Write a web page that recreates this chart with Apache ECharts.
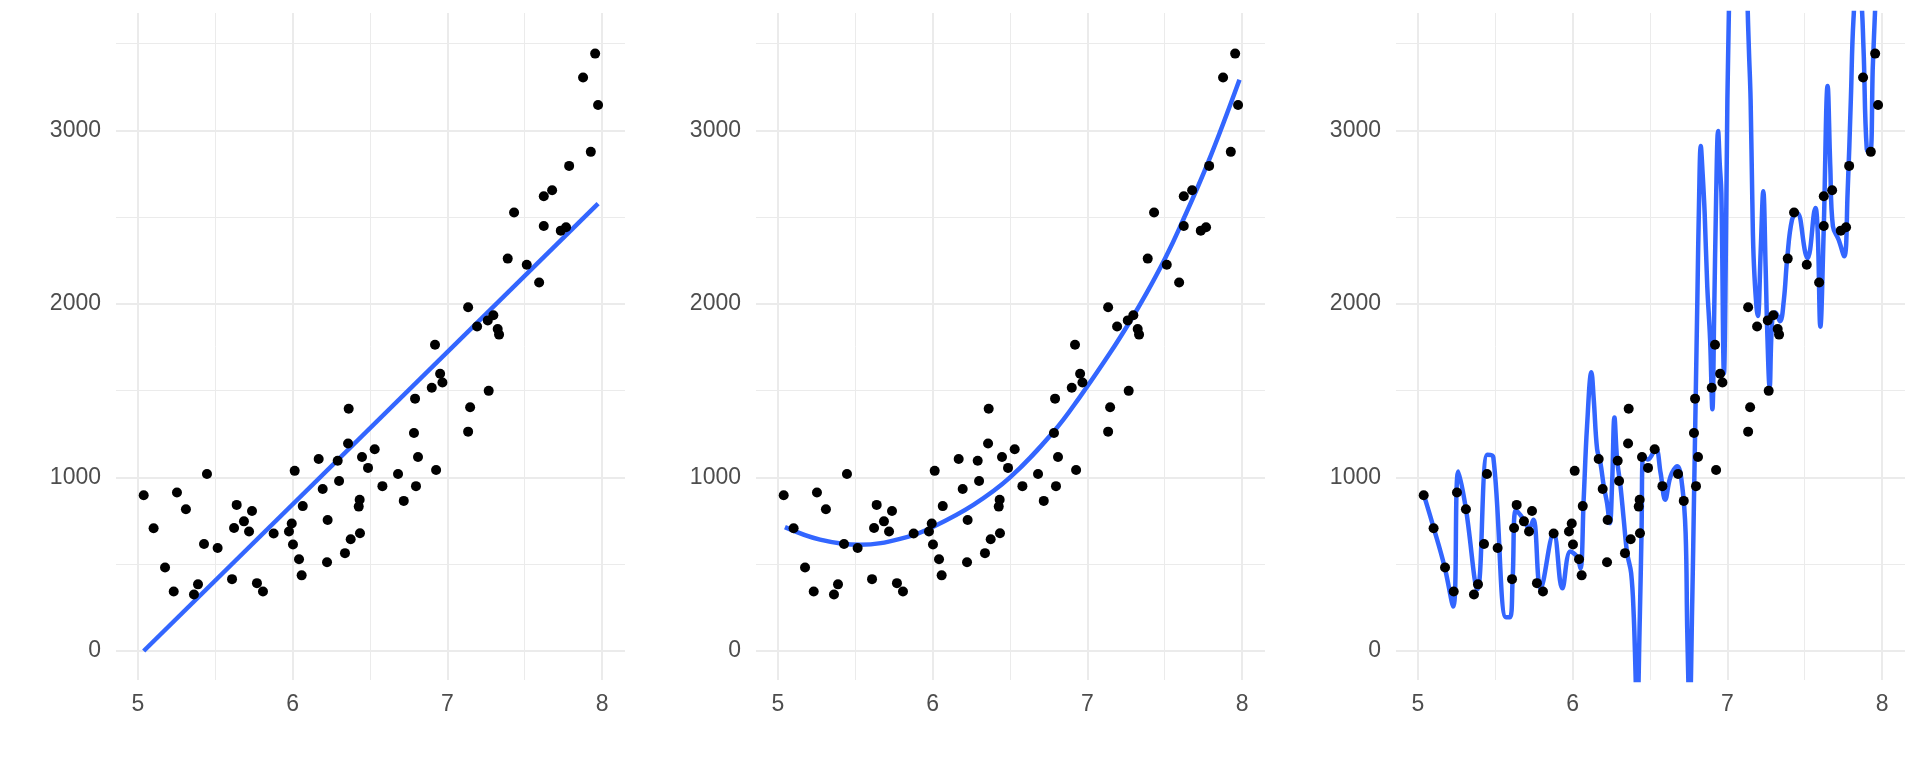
<!DOCTYPE html>
<html>
<head>
<meta charset="utf-8">
<script src="https://cdn.jsdelivr.net/npm/echarts@6/dist/echarts.min.js"></script>
<style>
  html, body { margin: 0; padding: 0; background: #fff; }
  #chart { width: 1920px; height: 768px; }
</style>
</head>
<body>
<div id="chart"></div>
<script>
const pointsX = [
  5.037, 5.101, 5.175, 5.231, 5.252, 5.310, 5.362, 5.388, 5.427, 5.446,
  5.515, 5.608, 5.621, 5.638, 5.685, 5.718, 5.737, 5.769, 5.808, 5.877,
  5.976, 5.994, 6.002, 6.013, 6.041, 6.058, 6.065, 6.168, 6.194, 6.222,
  6.226, 6.291, 6.300, 6.338, 6.358, 6.362, 6.375, 6.427, 6.433, 6.435,
  6.448, 6.487, 6.530, 6.580, 6.681, 6.718, 6.784, 6.791, 6.797, 6.810,
  6.920, 6.927, 6.899, 6.953, 6.968, 7.134, 7.134, 7.147, 7.192, 7.267,
  7.261, 7.297, 7.325, 7.334, 7.390, 7.431, 7.513, 7.593, 7.623, 7.623,
  7.677, 7.733, 7.767, 7.787, 7.877, 7.927, 7.955, 7.974
]
const pointsY = [
  897, 707, 481, 343, 913, 817, 326, 384, 617, 1020,
  594, 414, 709, 842, 747, 689, 807, 391, 343, 677,
  689, 735, 614, 1038, 529, 436, 835, 1106, 933, 511,
  755, 1096, 980, 564, 1196, 1396, 644, 832, 872, 679,
  1118, 1055, 1163, 950, 1020, 865, 1256, 1454, 950, 1118,
  1765, 1043, 1517, 1597, 1547, 1981, 1264, 1404, 1870, 1499,
  1905, 1935, 1855, 1823, 2261, 2527, 2226, 2123, 2620, 2449,
  2655, 2422, 2442, 2795, 3304, 2876, 3442, 3146
]

// panel 1: straight fit
const linearX = [5.037, 7.974]
const linearY = [0, 2578]

// panel 2: quadratic fit
const quadX = [5.045, 5.272, 5.530, 5.832, 6.004, 6.263, 6.500, 6.780, 6.953, 7.147, 7.276, 7.384, 7.502, 7.599, 7.782, 7.983]
const quadY = [714, 642, 612, 656, 716, 842, 1000, 1262, 1466, 1718, 1900, 2065, 2262, 2444, 2820, 3292]

// panel 3: over-fitted curve
const wiggleX = [
  5.037, 5.099, 5.172, 5.228, 5.261, 5.310, 5.384, 5.448, 5.487, 5.569,
  5.595, 5.612, 5.634, 5.685, 5.718, 5.746, 5.793, 5.877, 5.933, 5.985,
  6.028, 6.050, 6.071, 6.093, 6.121, 6.136, 6.158, 6.179, 6.201, 6.222,
  6.240, 6.255, 6.270, 6.287, 6.309, 6.330, 6.352, 6.378, 6.395, 6.417,
  6.434, 6.445, 6.456, 6.486, 6.536, 6.568, 6.598, 6.633, 6.676, 6.708,
  6.730, 6.741, 6.756, 6.773, 6.784, 6.795, 6.806, 6.817, 6.828, 6.840,
  6.853, 6.870, 6.888, 6.903, 6.914, 6.927, 6.940, 6.951, 6.961, 6.978,
  6.989, 7.000, 7.010, 7.020, 7.070, 7.120, 7.130, 7.139, 7.150, 7.161,
  7.172, 7.197, 7.215, 7.232, 7.247, 7.258, 7.273, 7.290, 7.311, 7.340,
  7.365, 7.386, 7.418, 7.451, 7.504, 7.519, 7.569, 7.584, 7.601, 7.622,
  7.648, 7.665, 7.682, 7.719, 7.755, 7.777, 7.798, 7.815, 7.840, 7.860,
  7.880, 7.901, 7.923, 7.940, 7.955, 7.974
]
const wiggleY = [
  902, 717, 485, 256, 1035, 819, 356, 1131, 1117, 194,
  194, 417, 813, 756, 706, 756, 361, 679, 361, 573,
  544, 477, 872, 1297, 1606, 1452, 1162, 1085, 950, 853,
  737, 969, 1345, 1104, 950, 757, 564, 448, 197, -350,
  197, 679, 1123, 1104, 1166, 1027, 872, 1007, 1065, 950,
  679, 100, -350, 293, 872, 1451, 2030, 2600, 2909, 2750,
  2524, 2100, 1800, 1393, 1908, 2600, 2996, 2800, 2640, 1600,
  2216, 3179, 3700, 4500, 6000, 4500, 3750, 3467, 3179, 2601,
  2216, 1930, 2300, 2649, 2216, 1831, 1523, 1908, 1950, 1900,
  2023, 2255, 2486, 2524, 2293, 2264, 2553, 2408, 1869, 2408,
  3256, 2793, 2447, 2370, 2274, 2640, 3179, 3640, 3850, 3820,
  3467, 2890, 2871, 3371, 3700, 4200
]

const xTicks = [5, 6, 7, 8]
const xMinorTicks = [5.5, 6.5, 7.5]
const yTicks = [0, 1000, 2000, 3000]
const yMinorTicks = [500, 1500, 2500, 3500]

const X_MIN = 4.858
const X_MAX = 8.148
const Y_MIN = -167
const Y_MAX = 3676

const GRID_COLOR = '#ebebeb'
const TEXT_COLOR = '#4d4d4d'
const FIT_COLOR = '#3366ff'

const zip = (xs, ys) => xs.map((x, i) => [x, ys[i]])

function axisPair(kind, gridIndex, major, minor, min, max) {
  const base = {
    type: 'value',
    gridIndex,
    min,
    max,
    axisLine: { show: false },
  }
  return [
    {
      ...base,
      axisTick: { show: false, customValues: major },
      axisLabel: {
        customValues: major,
        formatter: (v) => String(v),
        color: TEXT_COLOR,
        fontSize: 23,
        fontFamily: 'Liberation Sans, Arial, sans-serif',
        margin: kind === 'x' ? 13 : 15,
      },
      splitLine: { show: true, lineStyle: { color: GRID_COLOR, width: 2 } },
    },
    {
      ...base,
      axisTick: { show: false, customValues: minor },
      axisLabel: { show: false },
      splitLine: { show: true, lineStyle: { color: GRID_COLOR, width: 1 } },
    },
  ]
}

const fits = [zip(linearX, linearY), zip(quadX, quadY), zip(wiggleX, wiggleY)]
const points = zip(pointsX, pointsY)

const grids = []
const xAxes = []
const yAxes = []
const series = []

fits.forEach((fit, i) => {
  grids.push({ left: 116 + 640 * i, top: 13, width: 509, height: 667 })
  xAxes.push(...axisPair('x', i, xTicks, xMinorTicks, X_MIN, X_MAX))
  yAxes.push(...axisPair('y', i, yTicks, yMinorTicks, Y_MIN, Y_MAX))
  series.push({
    type: 'line',
    xAxisIndex: 2 * i,
    yAxisIndex: 2 * i,
    data: fit,
    smooth: i === 0 ? false : 0.4,
    symbol: 'none',
    clip: true,
    lineStyle: { color: FIT_COLOR, width: 4.5 },
    z: 2,
    silent: true,
  })
  series.push({
    type: 'scatter',
    xAxisIndex: 2 * i,
    yAxisIndex: 2 * i,
    data: points,
    symbolSize: 10,
    itemStyle: { color: '#000', opacity: 1 },
    z: 3,
    silent: true,
  })
})

const chart = echarts.init(document.getElementById('chart'), null, { renderer: 'canvas' })
chart.setOption({
  animation: false,
  backgroundColor: '#fff',
  grid: grids,
  xAxis: xAxes,
  yAxis: yAxes,
  series,
})
</script>
</body>
</html>
